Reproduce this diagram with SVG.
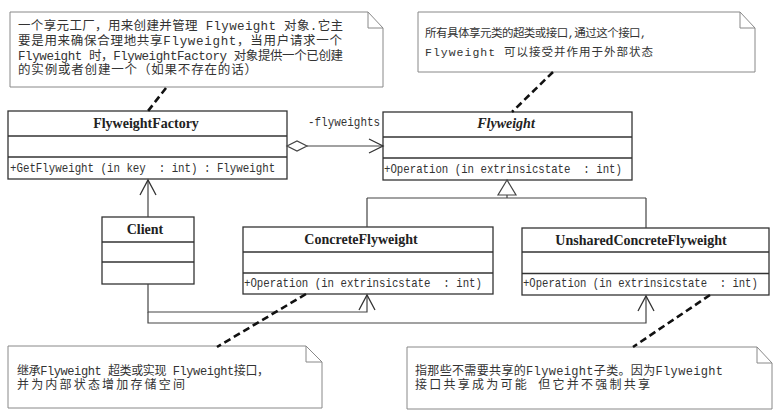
<svg xmlns="http://www.w3.org/2000/svg" width="781" height="418" viewBox="0 0 781 418">
<style>
.box{fill:#fff;stroke:#333;stroke-width:1.3}
.div{stroke:#333;stroke-width:1.3}
.note{fill:#fff;stroke:#888;stroke-width:1}
.fold{fill:none;stroke:#888;stroke-width:1}
.conn{fill:none;stroke:#444;stroke-width:1.2}
.head{fill:#fff;stroke:#444;stroke-width:1.2}
.open{fill:none;stroke:#333;stroke-width:1.3}
.dash{stroke:#111;stroke-width:2.6;stroke-dasharray:7 4;fill:none}
.title{font-family:"Liberation Serif",serif;font-weight:bold;font-size:14px;fill:#222;text-anchor:middle}
.meth{font-family:"Liberation Mono",monospace;font-size:13px;fill:#333;white-space:pre}
.ntxt{font-family:"Liberation Mono","Noto Sans CJK SC",monospace;font-size:12.5px;fill:#333}
.n2{font-size:11.5px}
.n34{font-size:12px}
</style>
<rect width="781" height="418" fill="#fff"/>

<g id="note-factory">
<path class="note" d="M10,12 H368 L383,28 V87 H10 Z"/>
<path class="fold" d="M368,12 V28 H383"/>
<text class="ntxt" x="18" y="30" textLength="325" lengthAdjust="spacing">一个享元工厂，用来创建并管理 Flyweight 对象.它主</text>
<text class="ntxt" x="18" y="45" textLength="324" lengthAdjust="spacing">要是用来确保合理地共享Flyweight，当用户请求一个</text>
<text class="ntxt" x="18" y="59.5" textLength="325" lengthAdjust="spacing">Flyweight 时，FlyweightFactory 对象提供一个已创建</text>
<text class="ntxt" x="18" y="74" textLength="239" lengthAdjust="spacing">的实例或者创建一个（如果不存在的话）</text>
</g>

<g id="note-flyweight">
<path class="note" d="M418,12 H740 L755,28 V72 H418 Z"/>
<path class="fold" d="M740,12 V28 H755"/>
<text class="ntxt n2" x="425" y="37" textLength="222" lengthAdjust="spacing">所有具体享元类的超类或接口,通过这个接口,</text>
<text class="ntxt n2" x="425" y="56" textLength="228" lengthAdjust="spacing">Flyweight 可以接受并作用于外部状态</text>
</g>

<g id="note-concrete">
<path class="note" d="M8,346 H306 L322,362 V408 H8 Z"/>
<path class="fold" d="M306,346 V362 H322"/>
<text class="ntxt n34" x="17" y="375" textLength="252" lengthAdjust="spacing">继承Flyweight 超类或实现 Flyweight接口，</text>
<text class="ntxt n34" x="17" y="389" textLength="168" lengthAdjust="spacing">并为内部状态增加存储空间</text>
</g>

<g id="note-unshared">
<path class="note" d="M407,347 H757 L772,363 V409 H407 Z"/>
<path class="fold" d="M757,347 V363 H772"/>
<text class="ntxt n34" x="415" y="375" textLength="308" lengthAdjust="spacing">指那些不需要共享的Flyweight子类。因为Flyweight</text>
<text class="ntxt n34" x="415" y="389" textLength="235" lengthAdjust="spacing">接口共享成为可能 但它并不强制共享</text>
</g>

<g id="FlyweightFactory">
<rect class="box" x="8" y="111" width="279" height="68"/>
<line class="div" x1="8" y1="136" x2="287" y2="136"/>
<line class="div" x1="8" y1="157" x2="287" y2="157"/>
<text class="title" x="146" y="128">FlyweightFactory</text>
<text class="meth" transform="translate(10,172) scale(0.829,1)">+GetFlyweight (in key  : int) : Flyweight</text>
</g>

<g id="Flyweight">
<rect class="box" x="383" y="112" width="249" height="68"/>
<line class="div" x1="383" y1="137" x2="632" y2="137"/>
<line class="div" x1="383" y1="158" x2="632" y2="158"/>
<text class="title" x="506" y="128" font-style="italic">Flyweight</text>
<text class="meth" transform="translate(384,172.5) scale(0.825,1)">+Operation (in extrinsicstate  : int)</text>
</g>

<g id="Client">
<rect class="box" x="102" y="217" width="92" height="67"/>
<line class="div" x1="102" y1="242" x2="194" y2="242"/>
<line class="div" x1="102" y1="262" x2="194" y2="262"/>
<text class="title" x="145" y="234">Client</text>
</g>

<g id="ConcreteFlyweight">
<rect class="box" x="243" y="227" width="250" height="67"/>
<line class="div" x1="243" y1="252" x2="493" y2="252"/>
<line class="div" x1="243" y1="273" x2="493" y2="273"/>
<text class="title" x="361" y="244">ConcreteFlyweight</text>
<text class="meth" transform="translate(244,286.5) scale(0.825,1)">+Operation (in extrinsicstate  : int)</text>
</g>

<g id="UnsharedConcreteFlyweight">
<rect class="box" x="522" y="228" width="247" height="67"/>
<line class="div" x1="522" y1="252" x2="769" y2="252"/>
<line class="div" x1="522" y1="273.5" x2="769" y2="273.5"/>
<text class="title" x="641" y="245">UnsharedConcreteFlyweight</text>
<text class="meth" transform="translate(523,287) scale(0.814,1)">+Operation (in extrinsicstate  : int)</text>
</g>

<g id="connectors">
<line class="conn" x1="307" y1="146" x2="383" y2="146"/>
<polygon class="head" points="287,146 297,141 307,146 297,151"/>
<polyline class="open" points="369,139 383,146 369,153"/>
<text class="meth" transform="translate(308,126) scale(0.84,1)">-flyweights</text>
<path class="conn" d="M507,195 V198 M367,198 H646 M367,198 V227 M646,198 V228"/>
<polygon class="head" points="507,180 498,195 516,195"/>
<line class="conn" x1="148" y1="217" x2="148" y2="180"/>
<polyline class="open" points="140,195 148,180 156,195"/>
<path class="conn" d="M148,284 V312 H367 V295"/>
<polyline class="open" points="359,310 367,295 375,310"/>
<path class="conn" d="M148,312 V323 H646 V296"/>
<polyline class="open" points="638,311 646,296 654,311"/>
<line class="dash" x1="166" y1="88" x2="148" y2="111"/>
<line class="dash" x1="553" y1="72" x2="512" y2="112"/>
<line class="dash" x1="306" y1="294" x2="217" y2="347"/>
<line class="dash" x1="710" y1="295" x2="633" y2="347"/>
</g>
</svg>
